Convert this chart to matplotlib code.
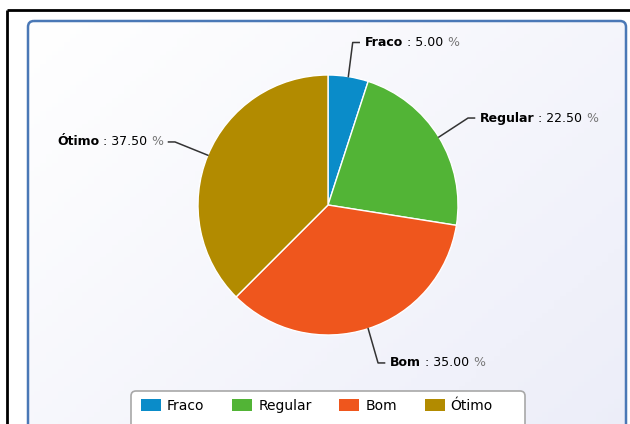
import numpy as np
import matplotlib
matplotlib.use('Agg')
import matplotlib.pyplot as plt
from matplotlib.patches import FancyBboxPatch, Rectangle
from matplotlib.offsetbox import TextArea, HPacker, AnnotationBbox

# data
categories = ['Fraco', 'Regular', 'Bom', 'Ótimo']
values = [5.0, 22.5, 35.0, 37.5]
colors = ['#0a8cc9', '#52b436', '#ef561d', '#b28b00']

# label elbow / text positions in pie units (radius = 1)
elbows = [(0.19, 1.25), (1.077, 0.669), (0.385, -1.215), (-1.177, 0.485)]

W, H = 630, 424
fig = plt.figure(figsize=(W / 100, H / 100), dpi=100)
fig.patch.set_facecolor('white')

# background axes in pixel coordinates
bg = fig.add_axes([0, 0, 1, 1])
bg.set_xlim(0, W)
bg.set_ylim(H, 0)
bg.axis('off')

# outer black frame (top and left)
bg.plot([6.5, W + 5], [9.5, 9.5], color='black', lw=2, solid_capstyle='butt')
bg.plot([6.5, 6.5], [9.5, H + 5], color='black', lw=2, solid_capstyle='butt')

# panel with gradient
panel = FancyBboxPatch((28, 21), 598, 430, boxstyle='round,pad=0,rounding_size=6',
                       facecolor='none', edgecolor='#4a78b6', lw=1.8, zorder=3)
bg.add_patch(panel)
yy, xx = np.mgrid[0:1:100j, 0:1:100j]
grad = 0.55 * xx + 0.45 * yy
c0 = np.array([1.0, 1.0, 1.0])
c1 = np.array([0.925, 0.93, 0.975])
img = c0 + (c1 - c0) * grad[..., None]
im = bg.imshow(img, extent=[28, 626, 451, 21], zorder=1, aspect='auto')
im.set_clip_path(panel)

# legend box (bottom runs off the image)
lbox = FancyBboxPatch((131, 391), 394, 50, boxstyle='round,pad=0,rounding_size=5',
                      facecolor='white', edgecolor='#a8a8a8', lw=1.2, zorder=4)
bg.add_patch(lbox)

# pie
cx, cy, r = 328, 205, 130
ax = fig.add_axes([(cx - r) / W, (H - cy - r) / H, 2 * r / W, 2 * r / H])
wedges, _ = ax.pie(values, colors=colors, startangle=90, counterclock=False,
                   wedgeprops=dict(edgecolor='white', linewidth=1))
ax.set_xlim(-1, 1)
ax.set_ylim(-1, 1)
ax.set_aspect('equal')
ax.axis('off')

fs = 9
for w, name, v, (ex, ey) in zip(wedges, categories, values, elbows):
    mid = np.deg2rad((w.theta1 + w.theta2) / 2)
    px, py = np.cos(mid), np.sin(mid)
    side = 1 if ex > 0 else -1
    hx = ex + side * 0.05
    ax.plot([px, ex, hx], [py, ey, ey], color='#333333', lw=1.1, clip_on=False)
    parts = [TextArea(name, textprops=dict(fontsize=fs, fontweight='bold', color='black')),
             TextArea(' : %.2f ' % v, textprops=dict(fontsize=fs, color='black')),
             TextArea('%', textprops=dict(fontsize=fs, color='#777777'))]
    box = HPacker(children=parts, align='baseline', pad=0, sep=0)
    ab = AnnotationBbox(box, (hx + side * 0.04, ey), xycoords='data',
                        box_alignment=(0 if side > 0 else 1, 0.5),
                        frameon=False, annotation_clip=False)
    ax.add_artist(ab)

# legend
handles = [Rectangle((0, 0), 1, 1, facecolor=c, edgecolor='none') for c in colors]
leg = fig.legend(handles, categories, ncol=4, loc='center left',
                 bbox_to_anchor=(141 / W, 1 - 406 / H), fontsize=10,
                 frameon=False, borderpad=0, borderaxespad=0,
                 handlelength=1.44, handleheight=1.0, handletextpad=0.43,
                 columnspacing=2.0)
leg.set_zorder(5)

fig.savefig('out.png', dpi=100)
